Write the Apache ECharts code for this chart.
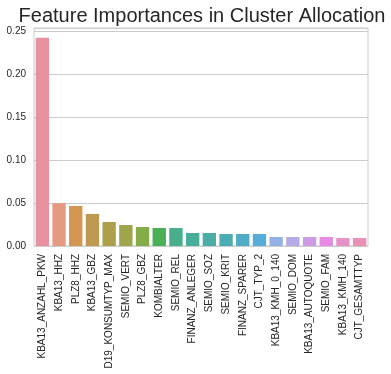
<!DOCTYPE html>
<html><head><meta charset="utf-8">
<script src="https://cdn.jsdelivr.net/npm/echarts@6/dist/echarts.min.js"></script>
<style>html,body{margin:0;padding:0;background:#fff}#c{width:391px;height:374px}</style>
</head><body><div id="c"></div>
<script>
const titleText = "Feature Importances in Cluster Allocation";
const features = ["KBA13_ANZAHL_PKW","KBA13_HHZ","PLZ8_HHZ","KBA13_GBZ","D19_KONSUMTYP_MAX","SEMIO_VERT","PLZ8_GBZ","KOMBIALTER","SEMIO_REL","FINANZ_ANLEGER","SEMIO_SOZ","SEMIO_KRIT","FINANZ_SPARER","CJT_TYP_2","KBA13_KMH_0_140","SEMIO_DOM","KBA13_AUTOQUOTE","SEMIO_FAM","KBA13_KMH_140","CJT_GESAMTTYP"];
const importances = [0.243,0.050,0.0467,0.0374,0.028,0.0245,0.0222,0.021,0.021,0.0152,0.0152,0.014,0.014,0.014,0.0105,0.0105,0.0105,0.0105,0.0093,0.0093];
const barColors = ["#E8929F","#E59A84","#D59552","#BE9A50","#ADA04A","#9EA54A","#84AD4A","#4AB055","#48AF8A","#47AE9C","#4AADA6","#4BACB4","#4FACC4","#58ACDC","#95B0E6","#B5A9E8","#CE9BE6","#E78AE4","#E691C9","#E891B4"];
const yTicks = [0,0.05,0.10,0.15,0.20,0.25];

const chart = echarts.init(document.getElementById('c'), null, {renderer:'canvas'});
const font = '"Liberation Sans", Arial, sans-serif';
chart.setOption({
  animation:false,
  backgroundColor:'#fff',
  title:{text:titleText,left:197,textAlign:'center',top:1,
    textStyle:{fontFamily:font,fontSize:20,fontWeight:'normal',color:'#262626'}},
  grid:{left:34,right:23,top:28,bottom:128,show:true,borderColor:'#cccccc',borderWidth:1,containLabel:false},
  xAxis:{type:'category',data:features,
    axisLine:{show:false},axisTick:{show:false},
    axisLabel:{rotate:90,fontSize:10,fontFamily:font,color:'#262626',margin:8,interval:0}},
  yAxis:{type:'value',min:0,max:0.2543,interval:0.05,
    axisLine:{show:false},axisTick:{show:false},
    splitLine:{lineStyle:{color:'#cccccc',width:1}},
    axisLabel:{fontSize:10,fontFamily:font,color:'#262626',margin:8,showMaxLabel:false,
      formatter:v=>{const m=yTicks.find(t=>Math.abs(t-v)<1e-9);return m===undefined?'':m.toFixed(2);}}},
  series:[{type:'bar',barCategoryGap:'20%',
    data:importances.map((v,i)=>({value:v,itemStyle:{color:barColors[i]}}))}]
});
</script></body></html>
